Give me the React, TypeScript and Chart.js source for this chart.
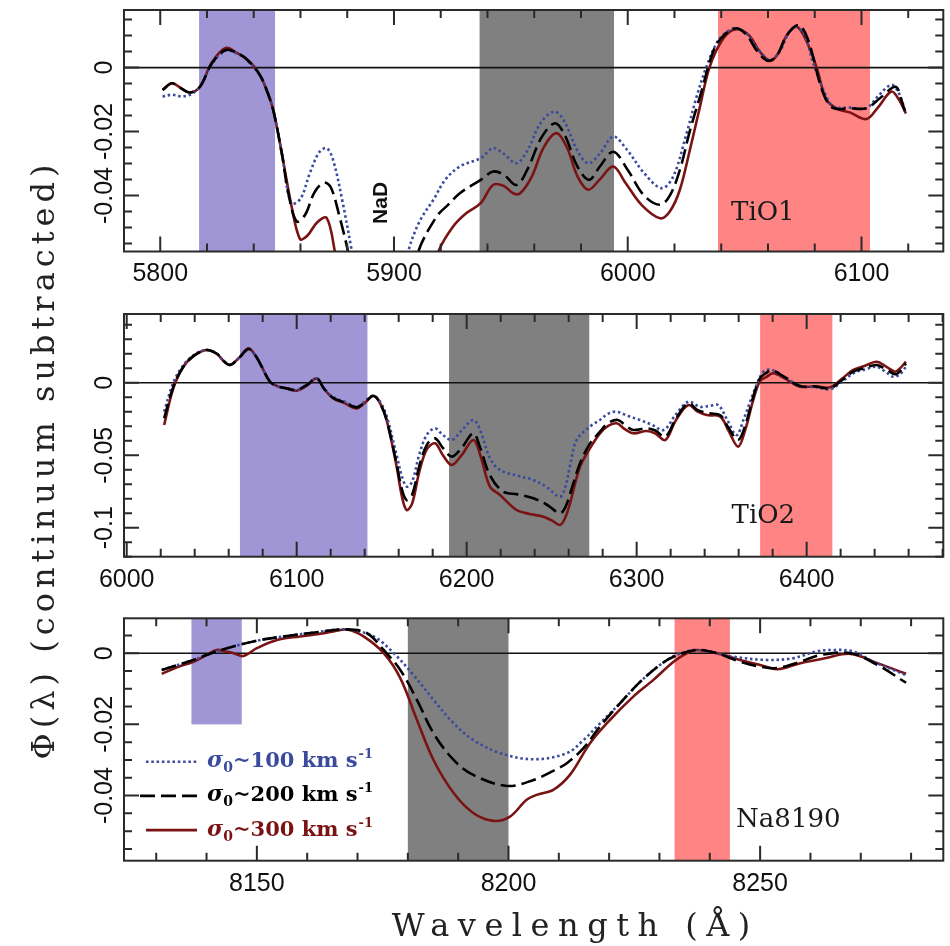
import React, { useEffect, useRef } from "react";
import { Chart, registerables } from "chart.js";
Chart.register(...registerables);

// ================= DATA =================
// ---- Panel 1: TiO1 (wavelength in Å, Φ(λ)) ----
const tio1Lam300 = [5801, 5805, 5809, 5812.7, 5817, 5822, 5828, 5833, 5837, 5840, 5842.6, 5845.5, 5848.3, 5852, 5856.2, 5859.8, 5863, 5867, 5871.2, 5874.7, 5877, 5893, 5915, 5919, 5925.3, 5931, 5937.1, 5942.4, 5947, 5951, 5954, 5959, 5964, 5969.5, 5974, 5978.5, 5983.1, 5988, 5993.8, 5999, 6006, 6013.8, 6018, 6022.3, 6026.5, 6030.9, 6034.5, 6038, 6042.5, 6047.2, 6052, 6056.5, 6060.8, 6064, 6068, 6072.2, 6076, 6080.7, 6085, 6090, 6095, 6102.1, 6107, 6112.8, 6116, 6119];
const tio1Phi300 = [-0.007, -0.0049, -0.0065, -0.0078, -0.006, 0.0015, 0.0061, 0.0045, 0.0026, 0.0005, -0.0023, -0.007, -0.0132, -0.0268, -0.0434, -0.0536, -0.0525, -0.0485, -0.047, -0.0575, -0.068, -0.12, -0.068, -0.0575, -0.0497, -0.0455, -0.0424, -0.0367, -0.037, -0.0393, -0.0393, -0.034, -0.025, -0.0205, -0.025, -0.034, -0.0382, -0.035, -0.0309, -0.036, -0.043, -0.0471, -0.045, -0.0382, -0.026, -0.0122, -0.001, 0.0055, 0.0105, 0.012, 0.01, 0.005, 0.0021, 0.004, 0.01, 0.0128, 0.009, 0.0003, -0.01, -0.013, -0.014, -0.0161, -0.0125, -0.0075, -0.01, -0.0143];
const tio1Lam200 = [5801, 5805, 5809, 5812.7, 5817, 5822, 5828, 5833, 5837, 5842.6, 5845.5, 5848.3, 5852, 5855, 5858.4, 5862, 5866, 5870, 5873, 5876.5, 5880.5, 5883, 5896, 5908, 5910.4, 5918.2, 5923, 5928.2, 5937.1, 5942.4, 5947, 5952.4, 5957, 5963, 5968.8, 5973, 5978.5, 5983.5, 5988, 5993.8, 6000, 6007, 6013.8, 6018, 6022.3, 6026.5, 6030.9, 6036.8, 6041, 6046.5, 6051, 6055.5, 6060.1, 6064, 6068, 6073, 6077, 6083.6, 6088, 6095, 6102.1, 6108, 6114.6, 6117, 6119];
const tio1Phi200 = [-0.007, -0.0049, -0.0065, -0.0078, -0.006, 0.0012, 0.0055, 0.0045, 0.0026, -0.0023, -0.007, -0.0132, -0.0268, -0.04, -0.0481, -0.046, -0.039, -0.036, -0.0375, -0.046, -0.058, -0.068, -0.12, -0.068, -0.0575, -0.0466, -0.043, -0.0393, -0.0351, -0.0325, -0.0335, -0.0367, -0.032, -0.022, -0.0174, -0.021, -0.031, -0.0351, -0.031, -0.0263, -0.032, -0.04, -0.0429, -0.04, -0.032, -0.02, -0.0091, 0.0055, 0.01, 0.0123, 0.01, 0.005, 0.0021, 0.004, 0.01, 0.0133, 0.009, -0.008, -0.0127, -0.0127, -0.0127, -0.0095, -0.006, -0.01, -0.0148];
const tio1Lam100 = [5801, 5805, 5809, 5812.7, 5817, 5822, 5828, 5833, 5837, 5842.6, 5845.5, 5848.3, 5852, 5856, 5860, 5864, 5868, 5871.2, 5874, 5878, 5882, 5885, 5895, 5903, 5906.1, 5911, 5916.9, 5922, 5928.2, 5937.1, 5942.4, 5947, 5952.4, 5957, 5963, 5968.8, 5973, 5978.5, 5983.1, 5988, 5993.8, 6000, 6007, 6014.5, 6019.5, 6025.2, 6029.5, 6033.7, 6038, 6042, 6046.5, 6051, 6056, 6060.8, 6065, 6069, 6072.2, 6076, 6079.3, 6085, 6088, 6095, 6102.1, 6107, 6112.8, 6116, 6119];
const tio1Phi100 = [-0.0091, -0.0085, -0.009, -0.0085, -0.006, 0.001, 0.0053, 0.0043, 0.0024, -0.0023, -0.0068, -0.013, -0.0265, -0.0424, -0.041, -0.033, -0.0265, -0.0252, -0.029, -0.042, -0.0575, -0.07, -0.11, -0.07, -0.0575, -0.048, -0.0413, -0.035, -0.0309, -0.0283, -0.0252, -0.027, -0.0299, -0.026, -0.017, -0.0138, -0.017, -0.026, -0.0299, -0.027, -0.0216, -0.026, -0.033, -0.0377, -0.034, -0.0205, -0.009, 0.0003, 0.0076, 0.011, 0.0123, 0.0105, 0.0055, 0.0024, 0.005, 0.011, 0.0128, 0.0095, 0.0014, -0.0091, -0.0122, -0.0125, -0.0127, -0.009, -0.0054, -0.008, -0.0143];

// ---- Panel 2: TiO2 ----
const tio2Lam300 = [6022, 6027.4, 6033.3, 6040, 6047.1, 6053, 6057, 6060.8, 6066, 6071.5, 6075, 6078.4, 6084.3, 6089, 6094.1, 6099.9, 6106, 6111.8, 6116, 6121.5, 6128, 6135.3, 6140, 6145.1, 6149, 6152.9, 6158.8, 6162, 6164.7, 6168, 6172, 6176.5, 6181.4, 6186, 6191.2, 6197, 6203.9, 6208, 6213.7, 6219.6, 6229.4, 6237, 6245.1, 6250, 6254.9, 6258, 6260.8, 6266.7, 6272.5, 6278.4, 6283, 6288.2, 6293, 6298, 6305.8, 6311, 6316.9, 6323, 6330.4, 6336, 6341.2, 6349.2, 6354, 6359.7, 6364, 6368.6, 6372.5, 6376.5, 6380.4, 6387, 6396.1, 6405, 6413.7, 6420, 6427.4, 6434, 6441.2, 6447, 6452, 6455, 6458.4];
const tio2Phi300 = [-0.0292, -0.0039, 0.011, 0.019, 0.0226, 0.02, 0.015, 0.0122, 0.017, 0.0237, 0.02, 0.0134, 0.0007, -0.0025, -0.0039, -0.0055, -0.002, 0.003, -0.004, -0.0108, -0.014, -0.0177, -0.014, -0.0092, -0.014, -0.0257, -0.0579, -0.079, -0.0878, -0.083, -0.062, -0.046, -0.0418, -0.05, -0.0568, -0.05, -0.0395, -0.05, -0.0717, -0.0774, -0.0878, -0.0905, -0.0924, -0.095, -0.0981, -0.093, -0.0832, -0.0579, -0.0453, -0.0349, -0.03, -0.028, -0.032, -0.0349, -0.0333, -0.035, -0.0395, -0.026, -0.0154, -0.02, -0.0223, -0.0234, -0.033, -0.0441, -0.032, -0.0119, 0.001, 0.0041, 0.0065, 0.003, -0.0027, -0.0025, -0.0032, 0.002, 0.0088, 0.0115, 0.0145, 0.011, 0.0076, 0.01, 0.0145];
const tio2Lam200 = [6022, 6027.4, 6033.3, 6040, 6047.1, 6053, 6057, 6060.8, 6066, 6071.5, 6075, 6078.4, 6084.3, 6089, 6094.1, 6099.9, 6106, 6111.8, 6116, 6121.5, 6128, 6135.3, 6140, 6145.1, 6149, 6152.9, 6158.8, 6162, 6164.7, 6168, 6172, 6176.5, 6181.4, 6186, 6191.2, 6197, 6203.9, 6208, 6213.7, 6221.5, 6230, 6239.2, 6247, 6254.9, 6258, 6261, 6266.7, 6272.5, 6278.4, 6283, 6289, 6294, 6298, 6305.8, 6311, 6316.9, 6323, 6330.4, 6336, 6343, 6349.2, 6354, 6359.7, 6364, 6368.6, 6372.5, 6376.5, 6379.4, 6387, 6396.1, 6405, 6413.7, 6420, 6427.4, 6434, 6441.2, 6447, 6452, 6455, 6458.4];
const tio2Phi200 = [-0.0246, -0.003, 0.011, 0.019, 0.0226, 0.02, 0.015, 0.0122, 0.017, 0.0232, 0.02, 0.0134, 0.0007, -0.0025, -0.0039, -0.005, -0.0015, 0.003, -0.004, -0.0105, -0.0135, -0.017, -0.0135, -0.009, -0.014, -0.0257, -0.056, -0.074, -0.0809, -0.077, -0.058, -0.043, -0.0384, -0.045, -0.051, -0.045, -0.0349, -0.045, -0.064, -0.0752, -0.077, -0.0797, -0.084, -0.0901, -0.086, -0.076, -0.0556, -0.042, -0.0338, -0.028, -0.0257, -0.03, -0.0326, -0.0315, -0.033, -0.0372, -0.025, -0.0143, -0.019, -0.0211, -0.0225, -0.031, -0.0395, -0.029, -0.0096, 0.003, 0.007, 0.0088, 0.004, -0.0023, -0.0025, -0.0039, 0.001, 0.0076, 0.01, 0.0122, 0.009, 0.0058, 0.008, 0.0133];
const tio2Lam100 = [6022, 6027.4, 6033.3, 6040, 6047.1, 6053, 6057, 6060.8, 6066, 6071.5, 6075, 6078.4, 6084.3, 6089, 6094.1, 6099.9, 6106, 6111.8, 6116, 6121.5, 6128, 6135.3, 6140, 6145.1, 6149, 6152.9, 6158.8, 6162, 6164.7, 6168, 6172, 6176.5, 6181.4, 6186, 6191.2, 6197, 6203.9, 6208, 6213.7, 6219.6, 6229.4, 6239.2, 6247, 6254.9, 6258, 6261, 6264.7, 6272.5, 6278.4, 6283, 6288.2, 6295, 6301.9, 6309, 6315.9, 6323, 6330.4, 6337.2, 6343, 6348, 6353, 6358.8, 6363, 6368.6, 6374.5, 6379.4, 6387, 6396.1, 6405, 6413.7, 6420, 6427.4, 6434, 6441.2, 6447, 6451, 6455, 6458.4];
const tio2Phi100 = [-0.02, 0.0, 0.012, 0.0195, 0.0226, 0.02, 0.015, 0.0125, 0.017, 0.023, 0.02, 0.0134, 0.0007, -0.0025, -0.0039, -0.005, -0.0015, 0.003, -0.004, -0.01, -0.013, -0.0165, -0.013, -0.009, -0.013, -0.023, -0.05, -0.065, -0.0717, -0.068, -0.05, -0.036, -0.0315, -0.036, -0.0395, -0.033, -0.0257, -0.033, -0.052, -0.0602, -0.064, -0.0671, -0.072, -0.0786, -0.072, -0.056, -0.0395, -0.0303, -0.0257, -0.0215, -0.02, -0.023, -0.0257, -0.029, -0.0326, -0.022, -0.0131, -0.0166, -0.016, -0.0154, -0.025, -0.0361, -0.025, -0.0073, 0.0076, 0.0088, 0.004, -0.0023, -0.003, -0.0045, 0.0, 0.0065, 0.009, 0.011, 0.007, 0.0041, 0.006, 0.011];

// ---- Panel 3: Na8190 ----
const naLam300 = [8131.1, 8134, 8137.4, 8140, 8142, 8144, 8145.4, 8147.3, 8150, 8154, 8158.6, 8162, 8165.2, 8168.1, 8171.2, 8175.2, 8178.5, 8181.8, 8185.1, 8189.1, 8193, 8197, 8200.3, 8203.6, 8205.6, 8208.9, 8212.2, 8216.2, 8220.2, 8224.8, 8228.8, 8232.8, 8235.5, 8237.4, 8241.4, 8246, 8250, 8253.5, 8258, 8262.9, 8268, 8273.3, 8279];
const naPhi300 = [-0.0058, -0.004, -0.0024, -0.0005, 0.0009, 0.0004, 0.0, -0.0008, 0.0014, 0.0037, 0.0047, 0.0053, 0.0061, 0.0066, 0.0047, 0.0, -0.007, -0.0187, -0.03, -0.0393, -0.0449, -0.0471, -0.0459, -0.0412, -0.0398, -0.0384, -0.0342, -0.0253, -0.0187, -0.0122, -0.0075, -0.0024, 0.0, 0.0009, 0.0, -0.0019, -0.0033, -0.0045, -0.0028, -0.0014, -0.0002, -0.0028, -0.0058];
const naLam200 = [8131.1, 8137.4, 8142, 8149.3, 8155.3, 8161.9, 8167.9, 8171.9, 8175.2, 8178.5, 8181.8, 8185.1, 8189.1, 8193, 8199.7, 8205, 8209, 8211.6, 8214.9, 8218.2, 8222.2, 8226.2, 8230.1, 8232.8, 8237.4, 8241.4, 8246, 8250, 8253.3, 8258, 8262, 8268, 8273.3, 8279];
const naPhi200 = [-0.0047, -0.0019, 0.0005, 0.0033, 0.0047, 0.0059, 0.0067, 0.0056, 0.0009, -0.0047, -0.0131, -0.0225, -0.03, -0.0342, -0.0373, -0.0356, -0.033, -0.0309, -0.0267, -0.0206, -0.014, -0.008, -0.0033, -0.001, 0.0009, 0.0, -0.0024, -0.0038, -0.0042, -0.0024, -0.0005, 0.0, -0.0033, -0.0083];
const naLam100 = [8131.1, 8137.4, 8142, 8149.3, 8155.3, 8161.9, 8167.9, 8173.2, 8177.2, 8181.1, 8185.1, 8189.1, 8193, 8198.4, 8205, 8211.6, 8214.9, 8218.2, 8222.2, 8226.2, 8230.1, 8233.4, 8237.4, 8244.7, 8251.3, 8256.6, 8261.2, 8264.5, 8268.5, 8272.5, 8276.5, 8278.8];
const naPhi100 = [-0.0047, -0.0019, 0.0005, 0.0033, 0.0047, 0.0059, 0.0067, 0.0047, 0.0, -0.0061, -0.0131, -0.0197, -0.0244, -0.0281, -0.0298, -0.0281, -0.0244, -0.0197, -0.014, -0.008, -0.0033, -0.0005, 0.0009, -0.001, -0.0019, -0.0014, 0.0005, 0.0009, 0.0005, -0.0024, -0.0047, -0.0061];

// ---- Index passbands [blue continuum, feature, red continuum] ----
const tio1Bands = [[5816.625, 5849.125], [5936.625, 5994.125], [6038.625, 6103.625]];
const tio2Bands = [[6066.625, 6141.625], [6189.625, 6272.125], [6372.625, 6415.125]];
const naBands = [[8137.0, 8147.0], [8180.0, 8200.0], [8233.0, 8244.0]];

// ---- Axis ticks ----
const tio1XTicks = [5800, 5900, 6000, 6100];
const tio2XTicks = [6000, 6100, 6200, 6300, 6400];
const naXTicks = [8150, 8200, 8250];
const tio1YTicks = [0, -0.02, -0.04];
const tio1YLabels = ["0", "-0.02", "-0.04"];
const tio2YTicks = [0, -0.05, -0.1];
const tio2YLabels = ["0", "-0.05", "-0.1"];
const naYTicks = [0, -0.02, -0.04];
const naYLabels = ["0", "-0.02", "-0.04"];

// ---- Legend ----
const legendSigmas = ["100", "200", "300"];

// ================= STYLE =================
const BAND_COLORS = ["rgb(160,150,214)", "rgb(128,128,128)", "rgb(255,133,133)"];
const COL_100 = "#3a4a9c";
const COL_200 = "#000000";
const COL_300 = "#7a1414";
const SERIES_STYLE = {
  s100: { color: COL_100, dash: [2.5, 2.8], width: 2.6 },
  s200: { color: COL_200, dash: [15, 6], width: 2.6 },
  s300: { color: COL_300, dash: [], width: 2.6 },
};

function pts(xs: number[], ys: number[]) {
  return xs.map((x, i) => ({ x, y: ys[i] }));
}

type PanelCfg = {
  top: number;
  height: number;
  padTop: number;
  xAxisH: number;
  xMin: number;
  xMax: number;
  yMin: number;
  yMax: number;
  xTicks: number[];
  xMinor: number;
  yTicks: number[];
  yLabels: string[];
  yMinor: number;
  bands: number[][];
  blueBandFloor?: number;
  s100: [number[], number[]];
  s200: [number[], number[]];
  s300: [number[], number[]];
  label: { text: string; x: number; y: number };
  nad?: { x: number; y: number };
  legend?: boolean;
};

const panels: PanelCfg[] = [
  {
    top: 0, height: 300, padTop: 10, xAxisH: 48.5,
    xMin: 5784.5, xMax: 6135, yMin: -0.0575, yMax: 0.018,
    xTicks: tio1XTicks, xMinor: 20, yTicks: tio1YTicks, yLabels: tio1YLabels, yMinor: 0.005,
    bands: tio1Bands,
    s100: [tio1Lam100, tio1Phi100], s200: [tio1Lam200, tio1Phi200], s300: [tio1Lam300, tio1Phi300],
    label: { text: "TiO1", x: 6057.8, y: -0.0454 },
    nad: { x: 5894.7, y: -0.0423 },
  },
  {
    top: 300, height: 300, padTop: 14, xAxisH: 43.3,
    xMin: 5998.4, xMax: 6480.4, yMin: -0.12, yMax: 0.0474,
    xTicks: tio2XTicks, xMinor: 20, yTicks: tio2YTicks, yLabels: tio2YLabels, yMinor: 0.01,
    bands: tio2Bands,
    s100: [tio2Lam100, tio2Phi100], s200: [tio2Lam200, tio2Phi200], s300: [tio2Lam300, tio2Phi300],
    label: { text: "TiO2", x: 6374.5, y: -0.0924 },
  },
  {
    top: 600, height: 346, padTop: 18.3, xAxisH: 85.3,
    xMin: 8123.6, xMax: 8286.4, yMin: -0.0583, yMax: 0.0098,
    xTicks: naXTicks, xMinor: 10, yTicks: naYTicks, yLabels: naYLabels, yMinor: 0.005,
    bands: naBands, blueBandFloor: -0.02,
    s100: [naLam100, naPhi100], s200: [naLam200, naPhi200], s300: [naLam300, naPhi300],
    label: { text: "Na8190", x: 8255.6, y: -0.0468 },
    legend: true,
  },
];

function minorValues(min: number, max: number, step: number, majors: number[]) {
  const out: number[] = [];
  const i0 = Math.ceil(min / step - 1e-9);
  const i1 = Math.floor(max / step + 1e-9);
  for (let i = i0; i <= i1; i++) {
    const v = i * step;
    if (!majors.some((m) => Math.abs(m - v) < step * 1e-3)) out.push(v);
  }
  return out;
}

const decorPlugin = {
  id: "decor",
  beforeDatasetsDraw(chart: any, _args: any, opts: any) {
    const cfg: PanelCfg = opts.cfg;
    const { ctx, chartArea: a } = chart;
    const xs = chart.scales.x;
    const ys = chart.scales.y;
    ctx.save();
    ctx.beginPath();
    ctx.rect(a.left, a.top, a.right - a.left, a.bottom - a.top);
    ctx.clip();
    cfg.bands.forEach((b, i) => {
      const x0 = xs.getPixelForValue(b[0]);
      const x1 = xs.getPixelForValue(b[1]);
      const yb = i === 0 && cfg.blueBandFloor !== undefined ? ys.getPixelForValue(cfg.blueBandFloor) : a.bottom;
      ctx.fillStyle = BAND_COLORS[i];
      ctx.fillRect(x0, a.top, x1 - x0, yb - a.top);
    });
    const y0 = ys.getPixelForValue(0);
    ctx.strokeStyle = "#111";
    ctx.lineWidth = 1.6;
    ctx.beginPath();
    ctx.moveTo(a.left, y0);
    ctx.lineTo(a.right, y0);
    ctx.stroke();
    ctx.restore();
  },
  afterDatasetsDraw(chart: any, _args: any, opts: any) {
    const cfg: PanelCfg = opts.cfg;
    const { ctx, chartArea: a } = chart;
    const xs = chart.scales.x;
    const ys = chart.scales.y;
    ctx.save();
    // frame
    ctx.strokeStyle = "#2a2a2a";
    ctx.lineWidth = 2;
    ctx.strokeRect(a.left, a.top, a.right - a.left, a.bottom - a.top);
    // ticks (inward, all four sides)
    const MAJ = 15, MIN = 8;
    ctx.lineWidth = 2;
    ctx.beginPath();
    const xMin = minorValues(cfg.xMin, cfg.xMax, cfg.xMinor, cfg.xTicks);
    const drawX = (v: number, len: number) => {
      const px = xs.getPixelForValue(v);
      ctx.moveTo(px, a.bottom);
      ctx.lineTo(px, a.bottom - len);
      ctx.moveTo(px, a.top);
      ctx.lineTo(px, a.top + len);
    };
    cfg.xTicks.forEach((v) => drawX(v, MAJ));
    xMin.forEach((v) => drawX(v, MIN));
    const yMin = minorValues(cfg.yMin, cfg.yMax, cfg.yMinor, cfg.yTicks);
    const drawY = (v: number, len: number) => {
      const py = ys.getPixelForValue(v);
      ctx.moveTo(a.left, py);
      ctx.lineTo(a.left + len, py);
      ctx.moveTo(a.right, py);
      ctx.lineTo(a.right - len, py);
    };
    cfg.yTicks.forEach((v) => drawY(v, MAJ));
    yMin.forEach((v) => drawY(v, MIN));
    ctx.stroke();

    // y tick labels (rotated)
    ctx.fillStyle = "#111";
    ctx.font = '25px "Liberation Sans", Arial, sans-serif';
    ctx.textAlign = "center";
    ctx.textBaseline = "alphabetic";
    cfg.yTicks.forEach((v, i) => {
      const py = ys.getPixelForValue(v);
      ctx.save();
      ctx.translate(a.left - 12, py);
      ctx.rotate(-Math.PI / 2);
      ctx.fillText(cfg.yLabels[i], 0, 0);
      ctx.restore();
    });

    // panel label
    ctx.font = '26px "DejaVu Serif", serif';
    ctx.textAlign = "center";
    ctx.textBaseline = "middle";
    ctx.fillStyle = "#1a1a1a";
    ctx.fillText(cfg.label.text, xs.getPixelForValue(cfg.label.x), ys.getPixelForValue(cfg.label.y));

    if (cfg.nad) {
      ctx.save();
      ctx.translate(xs.getPixelForValue(cfg.nad.x), ys.getPixelForValue(cfg.nad.y));
      ctx.rotate(-Math.PI / 2);
      ctx.font = 'bold 21px "Liberation Sans", Arial, sans-serif';
      ctx.fillStyle = "#111";
      ctx.fillText("NaD", 0, 0);
      ctx.restore();
    }

    if (cfg.legend) {
      const styles = [SERIES_STYLE.s100, SERIES_STYLE.s200, SERIES_STYLE.s300];
      legendSigmas.forEach((sig, i) => {
        const st = styles[i];
        const ry = a.top + 143.4 + i * 34.2;
        ctx.save();
        ctx.strokeStyle = st.color;
        ctx.lineWidth = st.width;
        ctx.setLineDash(st.dash);
        ctx.beginPath();
        ctx.moveTo(a.left + (i === 1 ? 16 : 22), ry);
        ctx.lineTo(a.left + 73, ry);
        ctx.stroke();
        ctx.restore();
        let tx = a.left + 83;
        const base = ry + 5.5;
        ctx.fillStyle = st.color;
        ctx.textAlign = "left";
        ctx.textBaseline = "alphabetic";
        ctx.font = 'italic bold 22px "DejaVu Serif", serif';
        ctx.fillText("σ", tx, base);
        tx += ctx.measureText("σ").width;
        ctx.font = 'bold 14px "DejaVu Serif", serif';
        ctx.fillText("0", tx, base + 5);
        tx += ctx.measureText("0").width;
        ctx.font = 'bold 21px "DejaVu Serif", serif';
        const main = "~" + sig + " km s";
        ctx.fillText(main, tx, base);
        tx += ctx.measureText(main).width;
        ctx.font = 'bold 13px "DejaVu Serif", serif';
        ctx.fillText("-1", tx + 1, base - 9);
      });
    }
    ctx.restore();
  },
};

function Panel({ cfg }: { cfg: PanelCfg }) {
  const ref = useRef<HTMLCanvasElement | null>(null);
  useEffect(() => {
    if (!ref.current) return;
    const mk = (key: "s100" | "s200" | "s300") => {
      const st = SERIES_STYLE[key];
      return {
        data: pts(cfg[key][0], cfg[key][1]),
        borderColor: st.color,
        borderWidth: st.width,
        borderDash: st.dash,
        pointRadius: 0,
        tension: 0.35,
        fill: false,
        clip: 0,
      };
    };
    const chart = new Chart(ref.current, {
      type: "line",
      data: { datasets: [mk("s200"), mk("s100"), mk("s300")] as any },
      options: {
        animation: false,
        responsive: false,
        devicePixelRatio: 1,
        events: [],
        layout: { padding: { top: cfg.padTop, right: 6.7, left: 0, bottom: 0 } },
        plugins: {
          legend: { display: false },
          tooltip: { enabled: false },
          decor: { cfg },
        } as any,
        scales: {
          x: {
            type: "linear",
            min: cfg.xMin,
            max: cfg.xMax,
            grid: { display: false, drawTicks: false },
            border: { display: false },
            afterBuildTicks: (s: any) => {
              s.ticks = cfg.xTicks.map((v) => ({ value: v }));
            },
            afterFit: (s: any) => {
              s.height = cfg.xAxisH;
            },
            ticks: {
              autoSkip: false,
              maxRotation: 0,
              padding: 8,
              color: "#111",
              font: { family: '"Liberation Sans", Arial, sans-serif', size: 25 },
              callback: (v: any) => String(v),
            },
          },
          y: {
            type: "linear",
            min: cfg.yMin,
            max: cfg.yMax,
            grid: { display: false, drawTicks: false },
            border: { display: false },
            ticks: { display: false },
            afterFit: (s: any) => {
              s.width = 124;
            },
          },
        },
      } as any,
      plugins: [decorPlugin as any],
    });
    return () => chart.destroy();
  }, [cfg]);
  return (
    <canvas
      ref={ref}
      width={950}
      height={cfg.height}
      style={{ position: "absolute", left: 0, top: cfg.top, width: 950, height: cfg.height, display: "block" }}
    />
  );
}

export default function App() {
  return (
    <div style={{ position: "absolute", left: 0, top: 0, width: 950, height: 946, background: "#fff", overflow: "hidden" }}>
      {panels.map((p, i) => (
        <Panel key={i} cfg={p} />
      ))}
      <div
        style={{
          position: "absolute",
          left: 571 - 300,
          top: 925 - 22,
          width: 600,
          height: 44,
          lineHeight: "44px",
          textAlign: "center",
          whiteSpace: "nowrap",
          fontFamily: '"DejaVu Serif", serif',
          fontSize: 32,
          letterSpacing: "8.5px",
          textIndent: "8.5px",
          color: "#222",
        }}
      >
        Wavelength (Å)
      </div>
      <div
        style={{
          position: "absolute",
          left: 43 - 400,
          top: 462 - 22,
          width: 800,
          height: 44,
          lineHeight: "44px",
          textAlign: "center",
          whiteSpace: "nowrap",
          fontFamily: '"DejaVu Serif", serif',
          fontSize: 32,
          letterSpacing: "5px",
          textIndent: "5px",
          transform: "rotate(-90deg)",
          transformOrigin: "50% 50%",
          color: "#222",
        }}
      >
        Φ(λ) (continuum subtracted)
      </div>
    </div>
  );
}
